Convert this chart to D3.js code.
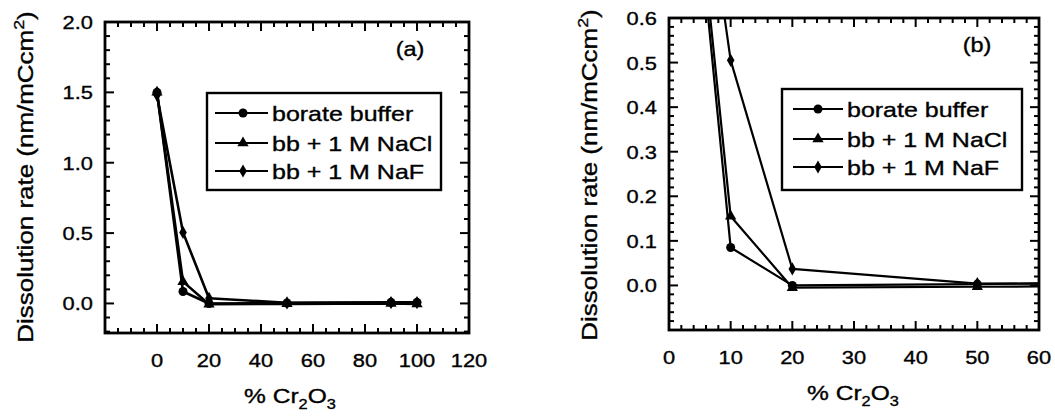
<!DOCTYPE html>
<html>
<head>
<meta charset="utf-8">
<script src="https://cdn.jsdelivr.net/npm/d3@7"></script>
<style>
  html, body { margin: 0; padding: 0; background: #fff; }
  svg { display: block; }
  text { font-family: "Liberation Sans", Arial, Helvetica, sans-serif; fill: #000; stroke: #000; stroke-width: 0.35px; }
</style>
</head>
<body>
<svg id="chart" width="1055" height="417"></svg>
<script>
// Dissolution rate vs. Cr2O3 content, three electrolytes
const pctCr2O3     = [0, 10, 20, 50, 90, 100];
const borateBuffer = [1.50, 0.085, 0.000, 0.003, 0.008, 0.008];
const bbNaCl       = [1.50, 0.155, -0.005, -0.003, 0.000, -0.004];
const bbNaF        = [1.48, 0.505, 0.037, 0.004, 0.006, 0.006];
const seriesNames  = ["borate buffer", "bb + 1 M NaCl", "bb + 1 M NaF"];

// axis ticks, panel (a) full range
const xMajorA = [0, 20, 40, 60, 80, 100, 120];
const yMajorA = [0.0, 0.5, 1.0, 1.5, 2.0];
// axis ticks, panel (b) zoomed
const xMajorB = [0, 10, 20, 30, 40, 50, 60];
const yMajorB = [0.0, 0.1, 0.2, 0.3, 0.4, 0.5, 0.6];

const series = [
  { name: seriesNames[0], values: borateBuffer, symbol: d3.symbolCircle,   size: 64 },
  { name: seriesNames[1], values: bbNaCl,       symbol: d3.symbolTriangle, size: 55 },
  { name: seriesNames[2], values: bbNaF,        symbol: d3.symbolDiamond,  size: 50 }
];

const svg = d3.select("#chart");

function stretchedText(g, x, y, fs, sx, rotate) {
  return g.append("text")
    .attr("font-size", fs)
    .attr("transform", `translate(${x},${y})` + (rotate ? ` rotate(${rotate})` : "") + ` scale(${sx},1)`);
}

function drawPanel(p) {
  const g = svg.append("g");
  const x = d3.scaleLinear().domain(p.xDomain).range([p.left, p.right]);
  const y = d3.scaleLinear().domain(p.yDomain).range([p.bottom, p.top]);

  const clipId = "clip-" + p.id;
  svg.append("defs").append("clipPath").attr("id", clipId)
    .append("rect").attr("x", p.left).attr("y", p.top)
    .attr("width", p.right - p.left).attr("height", p.bottom - p.top);

  // data lines and markers
  const plot = g.append("g").attr("clip-path", `url(#${clipId})`);
  const line = d3.line().x((d, i) => x(pctCr2O3[i])).y(d => y(d));
  series.forEach(s => {
    plot.append("path").datum(s.values)
      .attr("d", line).attr("fill", "none")
      .attr("stroke", "#000").attr("stroke-width", p.lineWidth)
      .attr("stroke-linejoin", "round");
    plot.selectAll(null).data(s.values).enter().append("path")
      .attr("d", d3.symbol().type(s.symbol).size(s.size))
      .attr("transform", (d, i) => `translate(${x(pctCr2O3[i])},${y(d)})`)
      .attr("fill", "#000");
  });

  // inward ticks on all four sides
  const ax = g.append("g").attr("stroke", "#000").attr("stroke-width", 2);
  const xMinor = d3.range(p.xDomain[0], p.xDomain[1] + 1e-9, p.xMinorStep);
  const yMinor = d3.range(Math.ceil(p.yDomain[0] / p.yMinorStep - 1e-9) * p.yMinorStep, p.yDomain[1] + 1e-9, p.yMinorStep);
  const isMajor = (v, step) => Math.abs(v / step - Math.round(v / step)) < 1e-6;
  xMinor.forEach(v => {
    const L = isMajor(v, p.xMajorStep) ? 9 : 5;
    ax.append("line").attr("x1", x(v)).attr("x2", x(v)).attr("y1", p.bottom).attr("y2", p.bottom - L);
    ax.append("line").attr("x1", x(v)).attr("x2", x(v)).attr("y1", p.top).attr("y2", p.top + L);
  });
  yMinor.forEach(v => {
    const L = isMajor(v, p.yMajorStep) ? 9 : 5;
    ax.append("line").attr("y1", y(v)).attr("y2", y(v)).attr("x1", p.left).attr("x2", p.left + L);
    ax.append("line").attr("y1", y(v)).attr("y2", y(v)).attr("x1", p.right).attr("x2", p.right - L);
  });

  // frame
  g.append("rect").attr("x", p.left).attr("y", p.top)
    .attr("width", p.right - p.left).attr("height", p.bottom - p.top)
    .attr("fill", "none").attr("stroke", "#000").attr("stroke-width", 2.8);

  // tick labels
  p.xMajor.forEach(v => {
    stretchedText(g, x(v), p.bottom + 34, 19, 1.15).attr("text-anchor", "middle").text(v);
  });
  p.yMajor.forEach(v => {
    stretchedText(g, p.left - 12, y(v) + 7, 19, 1.15).attr("text-anchor", "end").text(d3.format(".1f")(v));
  });

  // axis titles
  const xt = stretchedText(g, p.xTitleX, p.xTitleY, 21, 1.17).attr("text-anchor", "middle");
  xt.append("tspan").text("% Cr");
  xt.append("tspan").attr("font-size", 14).attr("dy", 6).text("2");
  xt.append("tspan").attr("dy", -6).text("O");
  xt.append("tspan").attr("font-size", 14).attr("dy", 6).text("3");

  const yt = stretchedText(g, p.yTitleX, p.yTitleY, 22, 1.18, -90).attr("text-anchor", "middle");
  yt.append("tspan").text("Dissolution rate (nm/mCcm");
  yt.append("tspan").attr("font-size", 15).attr("dy", -9).text("2");
  yt.append("tspan").attr("dy", 9).text(")");

  // panel tag
  stretchedText(g, p.tagX, p.tagY, 21, 1.12).attr("text-anchor", "middle").text(p.tag);

  // legend
  const lg = g.append("g");
  lg.append("rect").attr("x", p.legend.x).attr("y", p.legend.y)
    .attr("width", p.legend.w).attr("height", p.legend.h)
    .attr("fill", "#fff").attr("stroke", "#000").attr("stroke-width", 2.4);
  const rowOffsets = [20, 50, 78];
  series.forEach((s, i) => {
    const cy = p.legend.y + rowOffsets[i];
    lg.append("line").attr("x1", p.legend.x + p.legend.lineStart).attr("x2", p.legend.x + 61)
      .attr("y1", cy).attr("y2", cy).attr("stroke", "#000").attr("stroke-width", 2);
    lg.append("path").attr("d", d3.symbol().type(s.symbol).size(s.size))
      .attr("transform", `translate(${p.legend.x + 36},${cy})`).attr("fill", "#000");
    stretchedText(lg, p.legend.x + 65, cy + 7.5, 21, 1.19).text(s.name);
  });
}

drawPanel({
  id: "a", left: 105, right: 469, top: 22, bottom: 333,
  xDomain: [-20, 120], yDomain: [-0.21, 2.0],
  xMajor: xMajorA, yMajor: yMajorA,
  xMajorStep: 20, xMinorStep: 5, yMajorStep: 0.5, yMinorStep: 0.1,
  lineWidth: 2.6,
  xTitleX: 290, xTitleY: 403, yTitleX: 33, yTitleY: 177,
  tag: "(a)", tagX: 410, tagY: 56,
  legend: { x: 207, y: 93, w: 234, h: 97, lineStart: 8 }
});

drawPanel({
  id: "b", left: 669, right: 1039, top: 18, bottom: 330,
  xDomain: [0, 60], yDomain: [-0.1, 0.6],
  xMajor: xMajorB, yMajor: yMajorB,
  xMajorStep: 10, xMinorStep: 2, yMajorStep: 0.1, yMinorStep: 0.02,
  lineWidth: 2.2,
  xTitleX: 853, xTitleY: 400, yTitleX: 597, yTitleY: 175,
  tag: "(b)", tagX: 977, tagY: 52,
  legend: { x: 782, y: 89, w: 240, h: 101, lineStart: 11 }
});
</script>
</body>
</html>
